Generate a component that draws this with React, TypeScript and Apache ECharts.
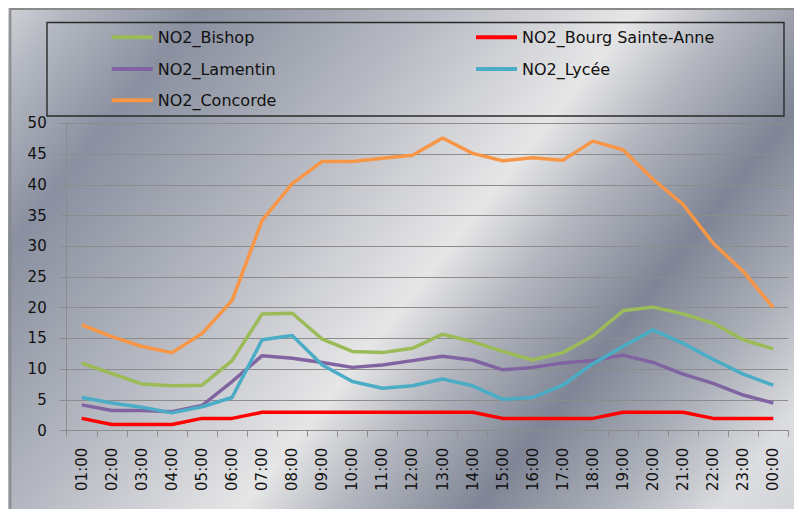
import React, { useEffect, useRef } from "react";
import * as echarts from "echarts";

const hours = [
  "01:00", "02:00", "03:00", "04:00", "05:00", "06:00", "07:00", "08:00",
  "09:00", "10:00", "11:00", "12:00", "13:00", "14:00", "15:00", "16:00",
  "17:00", "18:00", "19:00", "20:00", "21:00", "22:00", "23:00", "00:00",
];

const bishop = [11.0, 9.3, 7.6, 7.3, 7.4, 11.4, 19.0, 19.1, 14.9, 12.9, 12.7, 13.4, 15.7, 14.5, 12.9, 11.5, 12.7, 15.4, 19.5, 20.1, 19.0, 17.5, 14.8, 13.3];
const bourg = [2, 1, 1, 1, 2, 2, 3, 3, 3, 3, 3, 3, 3, 3, 2, 2, 2, 2, 3, 3, 3, 2, 2, 2];
const lamentin = [4.2, 3.3, 3.3, 3.1, 4.1, 8.0, 12.2, 11.8, 11.1, 10.3, 10.7, 11.4, 12.1, 11.5, 9.9, 10.3, 11.0, 11.4, 12.3, 11.1, 9.2, 7.7, 5.8, 4.5];
const lycee = [5.4, 4.5, 3.8, 2.9, 3.9, 5.4, 14.8, 15.5, 10.7, 8.0, 6.9, 7.3, 8.4, 7.3, 5.1, 5.4, 7.4, 10.9, 13.7, 16.4, 14.2, 11.6, 9.2, 7.4];
const concorde = [17.2, 15.3, 13.7, 12.7, 15.8, 21.2, 34.2, 40.2, 43.8, 43.8, 44.3, 44.8, 47.6, 45.1, 43.9, 44.4, 44.0, 47.1, 45.7, 40.9, 36.8, 30.5, 25.9, 20.0];

const seriesNames = ["NO2_Bishop", "NO2_Bourg Sainte-Anne", "NO2_Lamentin", "NO2_Lycée", "NO2_Concorde"];
const seriesColors = ["#9bbb59", "#ff0000", "#8064a2", "#4bacc6", "#f79646"];
const seriesData = [bishop, bourg, lamentin, lycee, concorde];

const W = 794;
const H = 501;
const FONT = "DejaVu Sans";

export default function App() {
  const ref = useRef<HTMLDivElement>(null);

  useEffect(() => {
    if (!ref.current) return;
    const chart = echarts.init(ref.current, undefined, { renderer: "svg" });

    const bg = new echarts.graphic.LinearGradient(
      0, 0, 735, 584,
      [
        { offset: 0, color: "#cfd1d6" },
        { offset: 0.05, color: "#b4b8c1" },
        { offset: 0.16, color: "#8a90a0" },
        { offset: 0.25, color: "#9ea3af" },
        { offset: 0.36, color: "#b9bcc4" },
        { offset: 0.457, color: "#d4d5d9" },
        { offset: 0.526, color: "#e6e6e7" },
        { offset: 0.606, color: "#b5b8c0" },
        { offset: 0.723, color: "#7f8595" },
        { offset: 0.83, color: "#abafb8" },
        { offset: 0.925, color: "#dcdde0" },
        { offset: 1, color: "#d2d3d7" },
      ],
      true
    );

    const legendPos = [
      { left: 103.7, top: 21.3 },
      { left: 468, top: 21.3 },
      { left: 103.7, top: 53 },
      { left: 468, top: 53 },
      { left: 103.7, top: 84.3 },
    ];

    const option: any = {
      animation: false,
      graphic: [
        {
          type: "rect",
          z: -10,
          silent: true,
          shape: { x: 0, y: 0, width: W, height: H },
          style: { fill: bg },
        },
        {
          type: "rect",
          z: -9,
          silent: true,
          shape: { x: 2.3, y: 1, width: 900, height: 700 },
          style: { fill: "none", stroke: "#8a8a8a", lineWidth: 2 },
        },
        {
          type: "rect",
          z: -8,
          silent: true,
          shape: { x: 39, y: 14.5, width: 737, height: 93.5 },
          style: { fill: "none", stroke: "#2a2a2a", lineWidth: 1.4 },
        },
      ],
      legend: seriesNames.map((name, i) => ({
        data: [name],
        left: legendPos[i].left,
        top: legendPos[i].top,
        padding: 0,
        icon: "rect",
        itemWidth: 41,
        itemHeight: 4,
        selectedMode: false,
        textStyle: { fontFamily: FONT, fontSize: 16, color: "#111" },
      })),
      grid: { left: 58.7, right: 13.7, top: 115.3, bottom: 78.3, containLabel: false },
      xAxis: {
        type: "category",
        data: hours,
        boundaryGap: true,
        axisLine: { show: true, lineStyle: { color: "#8c8c8c", width: 1 } },
        axisTick: { show: true, length: 6, alignWithLabel: false, lineStyle: { color: "#8c8c8c" } },
        axisLabel: {
          rotate: 90,
          margin: 17,
          interval: 0,
          fontFamily: FONT,
          fontSize: 15,
          color: "#111",
        },
        splitLine: { show: false },
      },
      yAxis: {
        type: "value",
        min: 0,
        max: 50,
        interval: 5,
        axisLine: { show: true, lineStyle: { color: "#8c8c8c", width: 1 } },
        axisTick: { show: true, length: 7, lineStyle: { color: "#8c8c8c" } },
        axisLabel: { margin: 20, fontFamily: FONT, fontSize: 15, color: "#111" },
        splitLine: { show: true, lineStyle: { color: "#8c8c8c", width: 1.2 } },
      },
      series: seriesNames.map((name, i) => ({
        name,
        type: "line",
        data: seriesData[i],
        symbol: "none",
        smooth: false,
        color: seriesColors[i],
        lineStyle: { color: seriesColors[i], width: 3.5 },
      })),
    };

    chart.setOption(option);
    return () => chart.dispose();
  }, []);

  return <div ref={ref} style={{ width: W, height: H }} />;
}
